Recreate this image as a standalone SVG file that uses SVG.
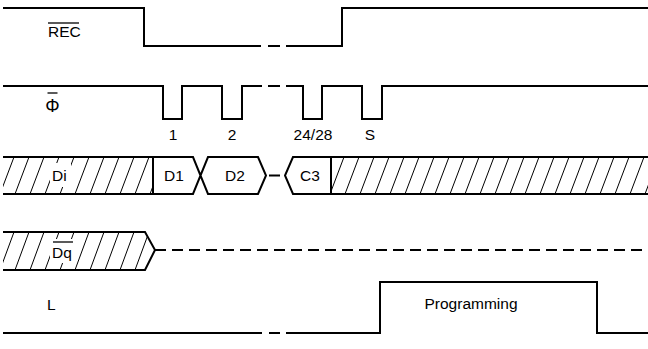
<svg xmlns="http://www.w3.org/2000/svg" width="648" height="349" viewBox="0 0 648 349">
<style>
.w{fill:none;stroke:#000;stroke-width:2;stroke-linejoin:miter;stroke-linecap:butt}
.t{font-family:"Liberation Sans",Arial,sans-serif;font-size:15.5px;fill:#000}
.h{stroke:#000;stroke-width:1}
.o{stroke:#000;stroke-width:1.3}
</style>
<defs>
<pattern id="hd" patternUnits="userSpaceOnUse" x="0" y="157" width="15" height="37">
<line class="h" x1="0" y1="37" x2="14" y2="0"/>
</pattern>
<pattern id="hq" patternUnits="userSpaceOnUse" x="0" y="232" width="15" height="38">
<line class="h" x1="0" y1="38" x2="14" y2="0"/>
</pattern>
</defs>
<rect width="648" height="349" fill="#fff"/>

<g id="rec">
<polyline class="w" points="3,8 144,8 144,46 261,46"/>
<line class="w" x1="268" y1="46" x2="280" y2="46"/>
<polyline class="w" points="286,46 342,46 342,8 648,8"/>
<text class="t" x="48" y="37">REC</text>
<line class="o" x1="48" y1="23" x2="79" y2="23"/>
</g>

<g id="phi">
<polyline class="w" points="3,86 163,86 163,119 182,119 182,86 222,86 222,119 242,119 242,86 262,86"/>
<line class="w" x1="268" y1="86" x2="280" y2="86"/>
<polyline class="w" points="286,86 303,86 303,119 322,119 322,86 362,86 362,119 382,119 382,86 648,86"/>
<text class="t" x="52.5" y="112" text-anchor="middle" style="font-size:18px">Φ</text>
<line class="o" x1="47.5" y1="93" x2="57.5" y2="93"/>
<text class="t" x="173" y="140" text-anchor="middle">1</text>
<text class="t" x="232" y="140" text-anchor="middle">2</text>
<text class="t" x="313" y="140" text-anchor="middle">24/28</text>
<text class="t" x="370" y="140" text-anchor="middle">S</text>
</g>

<g id="di">
<rect x="3" y="157" width="150" height="37" fill="url(#hd)"/>
<rect x="331" y="157" width="317" height="37" fill="url(#hd)"/>
<rect x="50" y="163" width="21" height="24" fill="#fff"/>
<text class="t" x="52" y="181">Di</text>
<polyline class="w" points="3,157 193,157 208,194 258,194 266,175.5 258,157 208,157 193,194 3,194"/>
<line class="w" x1="153" y1="157" x2="153" y2="194"/>
<line class="w" x1="269" y1="175.5" x2="280" y2="175.5"/>
<polyline class="w" points="648,157 293,157 285,175.5 293,194 648,194"/>
<line class="w" x1="331" y1="157" x2="331" y2="194"/>
<text class="t" x="174" y="181" text-anchor="middle">D1</text>
<text class="t" x="235" y="181" text-anchor="middle">D2</text>
<text class="t" x="310" y="181" text-anchor="middle">C3</text>
</g>

<g id="dq">
<polygon points="3,232 145,232 155,250 145,270 3,270" fill="url(#hq)"/>
<rect x="50" y="239" width="25" height="24" fill="#fff"/>
<text class="t" x="52" y="258">Dq</text>
<line class="o" x1="53" y1="242" x2="73" y2="242"/>
<polyline class="w" points="3,232 145,232 155,250 145,270 3,270"/>
<line class="w" x1="155" y1="250" x2="648" y2="250" stroke-dasharray="11 6"/>
</g>

<g id="l">
<polyline class="w" points="3,333 262,333"/>
<line class="w" x1="269" y1="333" x2="280" y2="333"/>
<polyline class="w" points="286,333 380,333 380,282 597,282 597,333 648,333"/>
<text class="t" x="47" y="310">L</text>
<text class="t" x="471" y="309" text-anchor="middle">Programming</text>
</g>
</svg>
